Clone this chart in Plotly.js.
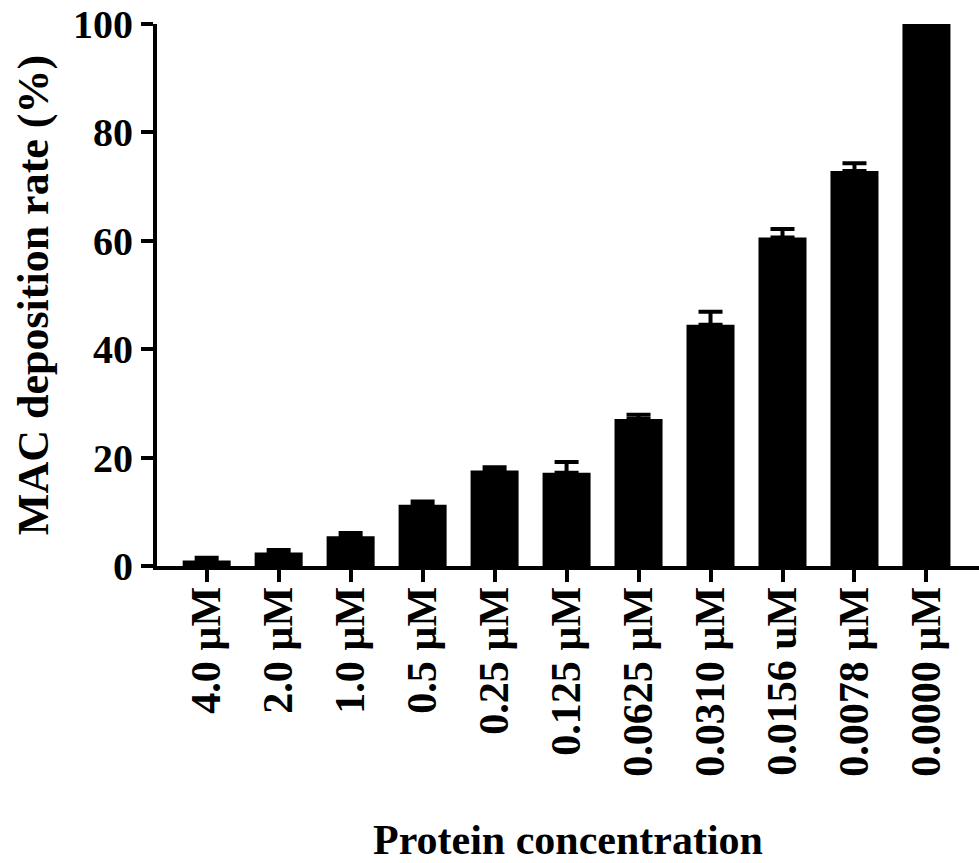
<!DOCTYPE html>
<html>
<head>
<meta charset="utf-8">
<script src="https://cdn.plot.ly/plotly-3.0.1.min.js"></script>
<style>html,body{margin:0;padding:0;background:#fff;}#chart{width:979px;height:863px;}</style>
</head>
<body>
<div id="chart"></div>
<script>
const categories = ["4.0 µM","2.0 µM","1.0 µM","0.5 µM","0.25 µM","0.125 µM","0.0625 µM","0.0310 µM","0.0156 uM","0.0078 µM","0.0000 µM"];
const depositionRate = [1.0, 2.5, 5.5, 11.3, 17.6, 17.2, 27.1, 44.5, 60.6, 72.9, 100];
const errorUp = [0.5, 0.45, 0.6, 0.6, 0.6, 2.0, 0.8, 2.4, 1.6, 1.4, 0];
const yTicks = [0, 20, 40, 60, 80, 100];

const fontFam = '"Liberation Serif", "Times New Roman", serif';

const trace = {
  type: 'bar',
  x: categories.map((c, i) => i),
  y: depositionRate,
  width: 0.667,
  marker: {color: '#000000', line: {width: 0}},
  error_y: {
    type: 'data',
    symmetric: false,
    array: errorUp,
    arrayminus: errorUp.map(() => 0),
    color: '#000000',
    thickness: 4,
    width: 12,
    visible: true
  },
  hoverinfo: 'none'
};

const layout = {
  width: 979,
  height: 863,
  margin: {l: 157, r: 0, t: 24, b: 297, pad: 0},
  paper_bgcolor: '#ffffff',
  plot_bgcolor: '#ffffff',
  showlegend: false,
  font: {family: fontFam, color: '#000000', weight: 'bold'},
  xaxis: {
    range: [-0.69, 10.73],
    tickvals: categories.map((c, i) => i),
    ticktext: categories,
    tickangle: -90,
    ticks: 'outside',
    ticklen: 12,
    tickwidth: 4,
    tickcolor: '#000000',
    ticklabelstandoff: -12,
    showline: true,
    linewidth: 4,
    linecolor: '#000000',
    showgrid: false,
    zeroline: false,
    tickfont: {family: fontFam, size: 42, color: '#000000', weight: 'bold'},
    title: {text: 'Protein concentration', font: {family: fontFam, size: 42, color: '#000000', weight: 'bold'}, standoff: 50},
    fixedrange: true
  },
  yaxis: {
    range: [0, 100],
    tickvals: yTicks,
    ticktext: yTicks.map(String),
    ticks: 'outside',
    ticklen: 12,
    tickwidth: 4,
    tickcolor: '#000000',
    showline: true,
    linewidth: 4,
    linecolor: '#000000',
    showgrid: false,
    zeroline: false,
    tickfont: {family: fontFam, size: 40, color: '#000000', weight: 'bold'},
    title: {text: 'MAC deposition rate (%)', font: {family: fontFam, size: 44, color: '#000000', weight: 'bold'}, standoff: 12},
    fixedrange: true
  }
};

Plotly.newPlot('chart', [trace], layout, {displayModeBar: false, staticPlot: true});
</script>
</body>
</html>
